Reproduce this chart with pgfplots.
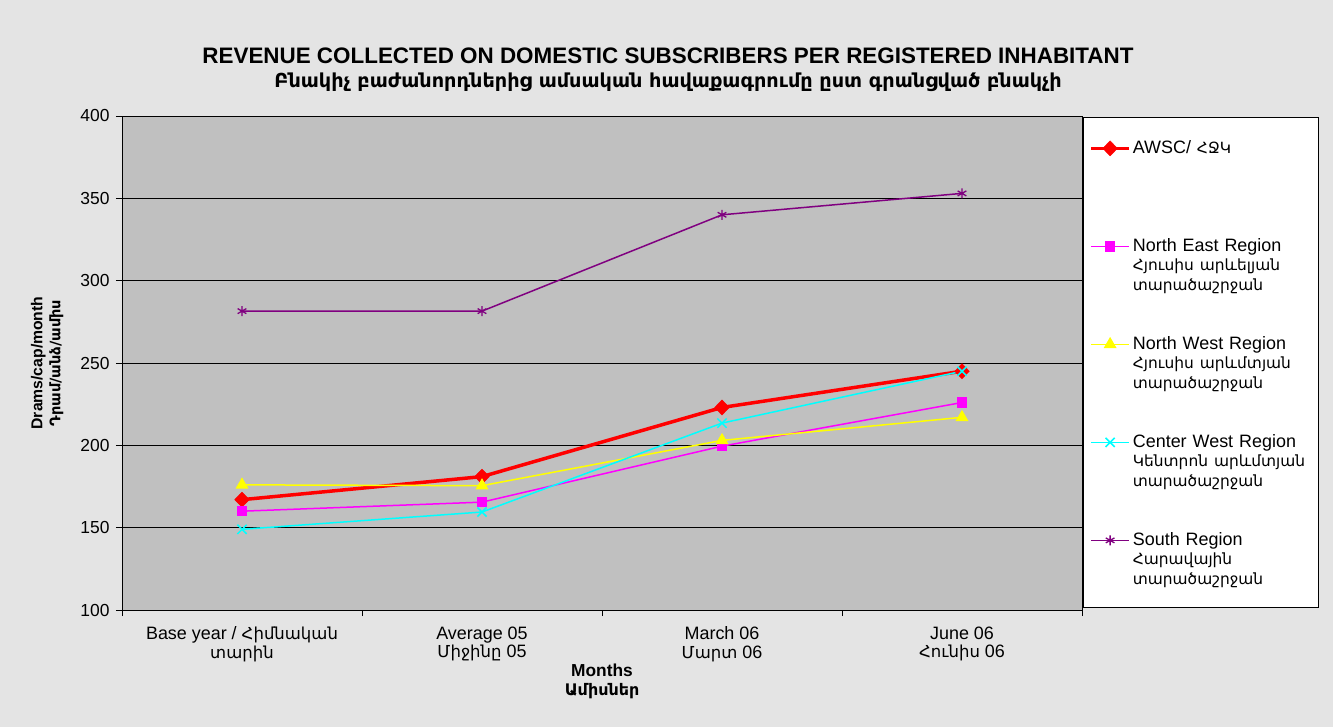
\documentclass[border=0pt]{standalone}
\usepackage{pgfplots}
\pgfplotsset{compat=1.18}
\usepackage{fontspec}
\setmainfont{Liberation Sans}
\newfontfamily\arm[Scale=0.92]{DejaVu Sans}
\newfontfamily\arml[Scale=0.86]{DejaVu Sans}
\definecolor{bg}{RGB}{228,228,228}
\definecolor{plotbg}{RGB}{192,192,192}
\definecolor{southc}{RGB}{128,0,128}
\definecolor{cwc}{RGB}{0,255,255}
\definecolor{nwc}{RGB}{255,255,0}
\definecolor{nec}{RGB}{255,0,255}
\begin{document}
\begin{tikzpicture}
\fill[bg] (0bp,0bp) rectangle (1333bp,727bp);
\node[font=\fontsize{22.5}{26}\selectfont\bfseries] at (668bp,671bp)
  {REVENUE COLLECTED ON DOMESTIC SUBSCRIBERS PER REGISTERED INHABITANT};
\node[font=\fontsize{21}{24}\selectfont\bfseries] at (668bp,645bp)
  {\arm Բնակիչ բաժանորդներից ամսական հավաքագրումը ըստ գրանցված բնակչի};
\begin{axis}[
  at={(122bp,117bp)}, anchor=south west,
  scale only axis, width=960bp, height=494bp,
  xmin=-0.5, xmax=3.5, ymin=100, ymax=400,
  ytick={100,150,...,400},
  xtick={0,1,2,3},
  xticklabels={{Base year / {\arm Հիմնական}\\{\arm տարին}},
               {Average 05\\{\arm Միջինը} 05},
               {March 06\\{\arm Մարտ} 06},
               {June 06\\{\arm Հունիս} 06}},
  minor xtick={-0.5,0.5,1.5,2.5,3.5},
  major x tick style={draw=none},
  tick align=outside, tick pos=left,
  major tick length=6bp, minor tick length=6bp,
  tick style={black, line width=0.8pt},
  ymajorgrids, grid style={black, line width=0.8pt},
  axis background/.style={fill=plotbg},
  axis line style={black, line width=0.8pt},
  yticklabel style={font=\fontsize{17.5}{19}\selectfont, xshift=-3bp},
  xticklabel style={align=center, font=\fontsize{18}{19}\selectfont, yshift=-7bp},
  /pgf/number format/assume math mode=true,
  xlabel={\bfseries Months\\{\arm\bfseries Ամիսներ}},
  xlabel style={align=center, font=\fontsize{17.4}{19}\selectfont,
    at={(axis description cs:0.5,-0.144)}, anchor=center},
  ylabel={\bfseries Drams/cap/month\\{\arm\bfseries Դրամ/անձ/ամիս}},
  ylabel style={align=center, font=\fontsize{15.8}{18}\selectfont,
    at={(axis description cs:-0.078,0.5)}, anchor=center},
  legend style={at={(1.001,0.998)}, anchor=north west, draw=black, fill=white,
    line width=0.8pt, inner xsep=6bp, inner ysep=0pt, row sep=0pt, column sep=2bp,
    font=\fontsize{18}{19.5}\selectfont,
    nodes={align=left, text height=36bp, text depth=62bp, inner sep=0pt, text width=180bp}},
  legend cell align=left,
  legend image code/.code={\draw[mark repeat=2,mark phase=2]
    plot coordinates {(0bp,18bp)(19bp,18bp)(38bp,18bp)};},
]
\addplot[red, line width=3.5bp, mark=diamond*, mark size=7.5bp, mark options={solid, line width=0.5bp, xscale=1.3}]
  coordinates {(0,167)(1,181)(2,223)(3,245)};
\addlegendentry{AWSC/ {\arml ՀՋԿ}}
\addplot[nec, line width=1.5bp, mark=square*, mark size=4.5bp, mark options={solid}]
  coordinates {(0,160)(1,165.5)(2,199.5)(3,226)};
\addlegendentry{North East Region\\{\arml Հյուսիս արևելյան}\\{\arml տարածաշրջան}}
\addplot[nwc, line width=1.5bp, mark=triangle*, mark size=6bp, mark options={solid}]
  coordinates {(0,176)(1,175.5)(2,203)(3,217)};
\addlegendentry{North West Region\\{\arml Հյուսիս արևմտյան}\\{\arml տարածաշրջան}}
\addplot[cwc, line width=1.5bp, mark=x, mark size=6.5bp, mark options={solid, line width=1.5bp}]
  coordinates {(0,149)(1,159.5)(2,213.5)(3,245)};
\addlegendentry{Center West Region\\{\arml Կենտրոն արևմտյան}\\{\arml տարածաշրջան}}
\addplot[southc, line width=1.5bp, mark=asterisk, mark size=5bp, mark options={solid, line width=1.3bp}]
  coordinates {(0,281.5)(1,281.5)(2,340)(3,353)};
\addlegendentry{South Region\\{\arml Հարավային}\\{\arml տարածաշրջան}}
\end{axis}
\pgfresetboundingbox
\path (0bp,0bp) rectangle (1333bp,727bp);
\end{tikzpicture}
\end{document}
